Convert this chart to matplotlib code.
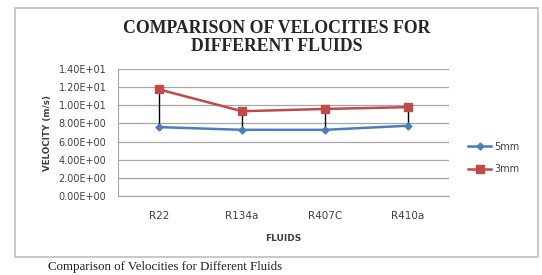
import numpy as np
import matplotlib
matplotlib.use("Agg")
import matplotlib.pyplot as plt
from matplotlib.patches import Rectangle
from matplotlib.ticker import FuncFormatter

# data
fluids = ["R22", "R134a", "R407C", "R410a"]
vel_5mm = [7.6, 7.3, 7.3, 7.75]
vel_3mm = [11.75, 9.35, 9.6, 9.8]
y_ticks = [0, 2, 4, 6, 8, 10, 12, 14]

blue = "#4a7ebb"
red = "#be4b48"

fig = plt.figure(figsize=(5.42, 2.75), dpi=100)
fig.patch.set_facecolor("white")

# outer chart frame
fig.patches.append(Rectangle((0.027, 0.065), 0.966, 0.905, transform=fig.transFigure,
                             fill=False, edgecolor="#bfbfbf", lw=1.2))

ax = fig.add_axes([0.217, 0.287, 0.612, 0.462])
x = np.arange(len(fluids))

# high-low lines between the two series
ax.vlines(x, vel_5mm, vel_3mm, colors="black", lw=1.0, zorder=2)
ax.plot(x, vel_5mm, color=blue, lw=1.8, marker="D", ms=3.5, label="5mm", zorder=3)
ax.plot(x, vel_3mm, color=red, lw=1.8, marker="s", ms=6, label="3mm", zorder=3)

ax.set_xlim(-0.5, len(fluids) - 0.5)
ax.set_ylim(0, 14)
ax.set_yticks(y_ticks)
ax.yaxis.set_major_formatter(FuncFormatter(lambda v, p: "%.2E" % v))
ax.set_xticks(x)
ax.set_xticklabels(fluids)
ax.grid(axis="y", color="#a6a6a6", lw=0.9)
ax.set_axisbelow(True)
for s in ["top", "right"]:
    ax.spines[s].set_visible(False)
ax.spines["left"].set_color("#a6a6a6")
ax.spines["bottom"].set_color("#a6a6a6")
ax.tick_params(length=0, labelsize=7, colors="#404040", pad=8)
ax.tick_params(axis="x", labelsize=7.5, pad=11)

ax.set_xlabel("FLUIDS", fontsize=6.5, fontweight="bold", color="#404040", labelpad=9)
ax.set_ylabel("VELOCITY (m/s)", fontsize=6.3, fontweight="bold", color="#404040", labelpad=5)

fig.text(0.51, 0.865, "COMPARISON OF VELOCITIES FOR\nDIFFERENT FLUIDS", ha="center", va="center",
         family="Liberation Serif", fontweight="bold", fontsize=12.8, color="#262626",
         linespacing=1.08)

ax.legend(loc="center left", bbox_to_anchor=(1.03, 0.3), frameon=False, fontsize=7,
          handlelength=2.4, labelspacing=1.3, handletextpad=0.3, labelcolor="#404040")

fig.text(0.088, 0.03, "Comparison of Velocities for Different Fluids", family="Liberation Serif",
         fontsize=9.3, color="#202020", va="center")

fig.savefig("out.png", dpi=100)
